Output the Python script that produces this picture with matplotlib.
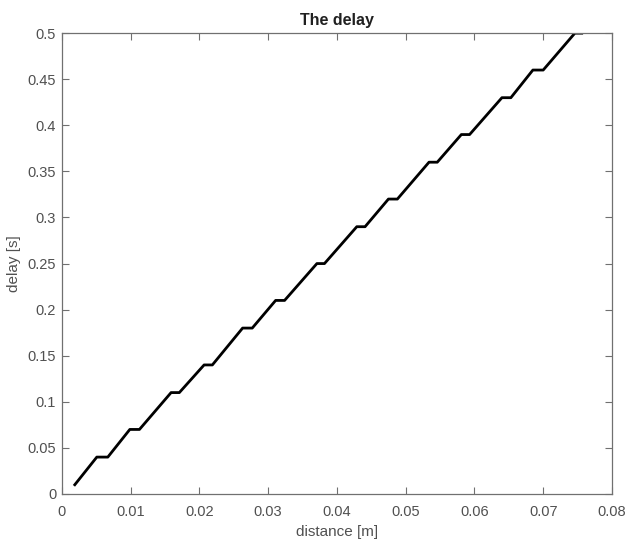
import matplotlib
matplotlib.use('Agg')
import matplotlib.pyplot as plt
from matplotlib.ticker import FormatStrFormatter

# distance [m] vs delay [s]
distance = [0.0019, 0.0051, 0.0067, 0.0099, 0.0113, 0.0159, 0.0171, 0.0207, 0.0219,
            0.0263, 0.0277, 0.0311, 0.0324, 0.0371, 0.0382, 0.0429, 0.0441, 0.0475,
            0.0488, 0.0534, 0.0546, 0.0581, 0.0593, 0.0640, 0.0653, 0.0685, 0.0700,
            0.0746, 0.0756]
delay = [0.01, 0.04, 0.04, 0.07, 0.07, 0.11, 0.11, 0.14, 0.14,
         0.18, 0.18, 0.21, 0.21, 0.25, 0.25, 0.29, 0.29, 0.32,
         0.32, 0.36, 0.36, 0.39, 0.39, 0.43, 0.43, 0.46, 0.46,
         0.50, 0.50]

xticks = [0, 0.01, 0.02, 0.03, 0.04, 0.05, 0.06, 0.07, 0.08]
yticks = [0, 0.05, 0.1, 0.15, 0.2, 0.25, 0.3, 0.35, 0.4, 0.45, 0.5]

plt.rcParams['font.family'] = ['Liberation Sans', 'DejaVu Sans']
txt = '#505050'
edge = '#707070'

fig = plt.figure(figsize=(6.26, 5.44), dpi=100)
ax = fig.add_axes([0.0986, 0.092, 0.879, 0.847])

ax.plot(distance, delay, color='black', linewidth=2.0)

ax.set_xlim(0, 0.08)
ax.set_ylim(0, 0.5)
ax.set_xticks(xticks)
ax.set_yticks(yticks)
ax.xaxis.set_major_formatter(FormatStrFormatter('%g'))
ax.yaxis.set_major_formatter(FormatStrFormatter('%g'))
ax.tick_params(direction='in', top=True, right=True, length=5, width=0.8,
               colors=edge, labelcolor=txt, labelsize=10.5)
ax.tick_params(axis='x', pad=8)
ax.tick_params(axis='y', pad=4)
for s in ax.spines.values():
    s.set_color(edge)
    s.set_linewidth(0.9)

ax.set_title('The delay', fontsize=11.5, fontweight='bold', color='#202020', pad=6)
ax.set_xlabel('distance [m]', fontsize=11, color=txt, labelpad=4)
ax.set_ylabel('delay [s]', fontsize=11, color=txt, labelpad=5)

fig.savefig('out.png', dpi=100, facecolor='white')
